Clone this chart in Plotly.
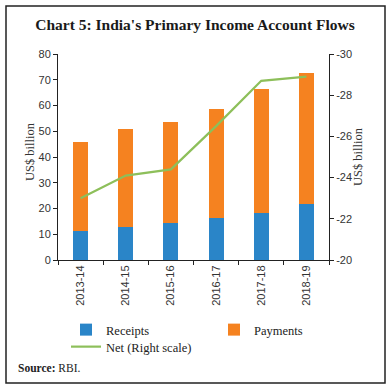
import plotly.graph_objects as go

years = ["2013-14", "2014-15", "2015-16", "2016-17", "2017-18", "2018-19"]
receipts = [11.3, 12.9, 14.5, 16.4, 18.4, 21.9]
payments = [34.6, 38.0, 39.1, 42.2, 48.0, 50.6]
net = [-23.0, -24.1, -24.4, -26.5, -28.7, -28.9]
left_ticks = [0, 10, 20, 30, 40, 50, 60, 70, 80]
right_ticks = [-20, -22, -24, -26, -28, -30]

BLUE = "#2A85C8"
ORANGE = "#F58220"
GREEN = "#8DBF5A"
SERIF = "Liberation Serif"
SANS = "Liberation Sans"

fig = go.Figure()
fig.add_trace(go.Bar(x=years, y=receipts, name="Receipts", marker_color=BLUE,
                     marker_line_width=0, width=0.33, legend="legend"))
fig.add_trace(go.Bar(x=years, y=payments, name="Payments", marker_color=ORANGE,
                     marker_line_width=0, width=0.33, legend="legend2"))
fig.add_trace(go.Scatter(x=years, y=net, name="Net (Right scale)", mode="lines",
                         line=dict(color=GREEN, width=2.2), yaxis="y2", legend="legend3"))

W, H = 390, 390
L, R, T, B = 58, 61, 54, 130
pw, ph = W - L - R, H - T - B

def px(x):
    return (x - L) / pw

def py(y):
    return (H - B - y) / ph

tickfont = dict(family=SANS, size=11, color="#333333")
legfont = dict(family=SERIF, size=12.5, color="#222222")

def leg(x, y):
    return dict(orientation="h", x=px(x), xanchor="left", y=py(y), yanchor="middle",
                font=legfont, bgcolor="rgba(0,0,0,0)")

fig.update_layout(
    width=W, height=H,
    margin=dict(l=L, r=R, t=T, b=B, autoexpand=False),
    barmode="stack",
    paper_bgcolor="white", plot_bgcolor="white",
    showlegend=True,
    title=dict(text="<b>Chart 5: India's Primary Income Account Flows</b>",
               x=0.5, xanchor="center", y=1 - 25 / H, yanchor="middle",
               font=dict(family=SERIF, size=15.5, color="#1a1a1a")),
    xaxis=dict(showline=True, linecolor="#222222", linewidth=1,
               ticks="outside", tickson="boundaries", ticklen=4, tickcolor="#222222",
               tickangle=-90, tickfont=tickfont, automargin=False,
               showgrid=False, zeroline=False),
    yaxis=dict(range=[0, 80], tickvals=left_ticks, ticktext=[str(v) for v in left_ticks],
               showline=True, linecolor="#222222", automargin=False,
               ticks="outside", ticklen=4, tickcolor="#222222", tickfont=tickfont,
               showgrid=False, zeroline=False),
    yaxis2=dict(range=[-20, -30], tickvals=right_ticks, ticktext=["-%d" % abs(v) for v in right_ticks],
                overlaying="y", side="right", automargin=False,
                showline=True, linecolor="#222222", ticks="outside", ticklen=4,
                tickcolor="#222222", tickfont=tickfont,
                showgrid=False, zeroline=False),
    legend=leg(66, 330),
    legend2=leg(214, 330),
    legend3=leg(66, 347),
    annotations=[
        dict(text="US$ billion", x=px(21), y=py(152), xref="paper", yref="paper",
             textangle=-90, showarrow=False, font=dict(family=SERIF, size=12.5, color="#333333")),
        dict(text="US$ billion", x=px(367), y=py(157), xref="paper", yref="paper",
             textangle=-90, showarrow=False, font=dict(family=SERIF, size=12.5, color="#333333")),
        dict(text="<b>Source:</b> RBI.", x=px(16), y=py(368), xref="paper", yref="paper",
             xanchor="left", yanchor="middle", showarrow=False,
             font=dict(family=SERIF, size=11.5, color="#222222")),
    ],
    shapes=[dict(type="rect", xref="paper", yref="paper",
                 x0=px(6), x1=px(385), y0=py(383), y1=py(6),
                 line=dict(color="#222222", width=1.5))],
)

fig.write_html("out.html", config={"displayModeBar": False},
               post_script="document.body.style.margin='0';")
